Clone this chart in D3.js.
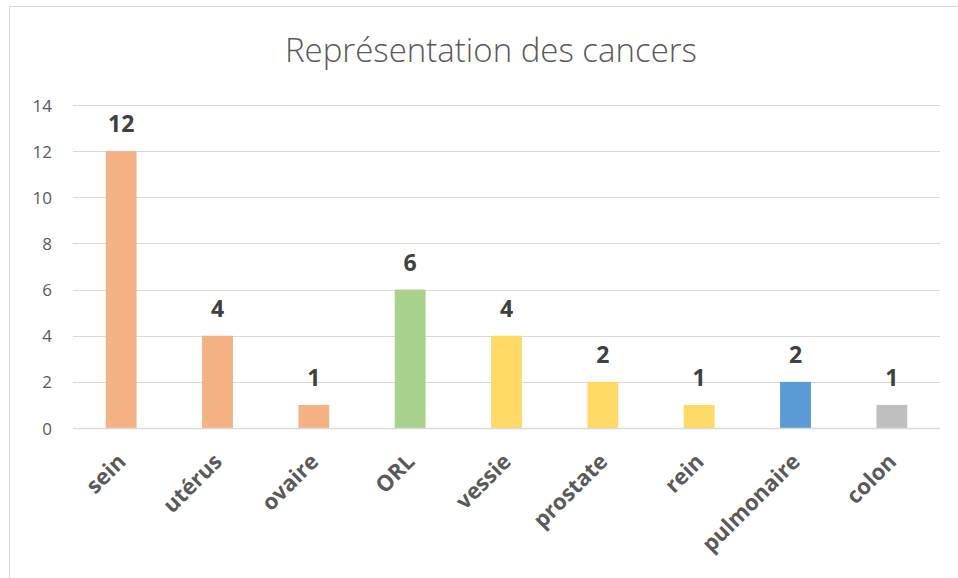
<!DOCTYPE html>
<html><head><meta charset="utf-8">
<script src="https://cdn.jsdelivr.net/npm/d3@7"></script>
<style>body{margin:0;background:#fff;}svg{display:block;}</style>
</head><body>
<svg id="c" width="958" height="578"></svg>
<script>
const categories = ["sein","utérus","ovaire","ORL","vessie","prostate","rein","pulmonaire","colon"];
const values = [12,4,1,6,4,2,1,2,1];
const barColors = ["#F4B183","#F4B183","#F4B183","#A9D18E","#FFD966","#FFD966","#FFD966","#5B9BD5","#BFBFBF"];
const yTicks = [0,2,4,6,8,10,12,14];
const title = "Représentation des cancers";

(function(){
const svg = d3.select("#c");
svg.append("rect").attr("x",9.5).attr("y",6.5).attr("width",1000).attr("height",700)
  .attr("fill","#fff").attr("stroke","#D9D9D9").attr("stroke-width",1);

const pL=73, pR=940, pT=105, pB=428;
const x = d3.scaleBand().domain(categories).range([pL,pR]).paddingInner(0.68).paddingOuter(0.34);
const y = d3.scaleLinear().domain([0,14]).range([pB,pT]);

svg.append("g").selectAll("line").data(yTicks).join("line")
  .attr("x1",pL).attr("x2",pR)
  .attr("y1",d=>Math.round(y(d))+0.5).attr("y2",d=>Math.round(y(d))+0.5)
  .attr("stroke","#D9D9D9").attr("stroke-width",1);

const yAxis = d3.axisLeft(y).tickValues(yTicks).tickSize(0).tickPadding(0);
const gy = svg.append("g").attr("transform",`translate(52,0)`).call(yAxis);
gy.select(".domain").remove();
gy.selectAll("text").attr("font-family","'Open Sans', sans-serif").attr("font-size","17px").attr("fill","#595959")
  .attr("dy","0.36em");

svg.append("g").selectAll("rect").data(values).join("rect")
  .attr("x",(d,i)=>x(categories[i])).attr("width",x.bandwidth())
  .attr("y",d=>y(d)).attr("height",d=>y(0)-y(d))
  .attr("fill",(d,i)=>barColors[i]);

svg.append("line").attr("x1",pL).attr("x2",pR).attr("y1",pB+0.5).attr("y2",pB+0.5)
  .attr("stroke","#D9D9D9").attr("stroke-width",1.5);

svg.append("g").selectAll("text").data(values).join("text")
  .attr("x",(d,i)=>x(categories[i])+x.bandwidth()/2).attr("y",d=>y(d)-19)
  .attr("text-anchor","middle").attr("font-family","'Open Sans', sans-serif")
  .attr("font-weight","bold").attr("font-size","23px").attr("fill","#404040")
  .text(d=>d);

const xAxis = d3.axisBottom(x).tickSize(0).tickPadding(0);
const gx = svg.append("g").attr("transform",`translate(0,${pB})`).call(xAxis);
gx.select(".domain").remove();
gx.selectAll("text")
  .attr("font-family","'Open Sans', sans-serif").attr("font-weight","bold").attr("font-size","22px")
  .attr("fill","#595959").attr("text-anchor","end").attr("dy",null).attr("y",null)
  .attr("transform","translate(6,35) rotate(-45)");

svg.append("text").attr("x",491).attr("y",62).attr("text-anchor","middle")
  .attr("font-family","'Open Sans', sans-serif").attr("font-weight","300").attr("font-size","33px")
  .attr("fill","#595959").attr("textLength",412).attr("lengthAdjust","spacingAndGlyphs").text(title);
})();
</script>
</body></html>
